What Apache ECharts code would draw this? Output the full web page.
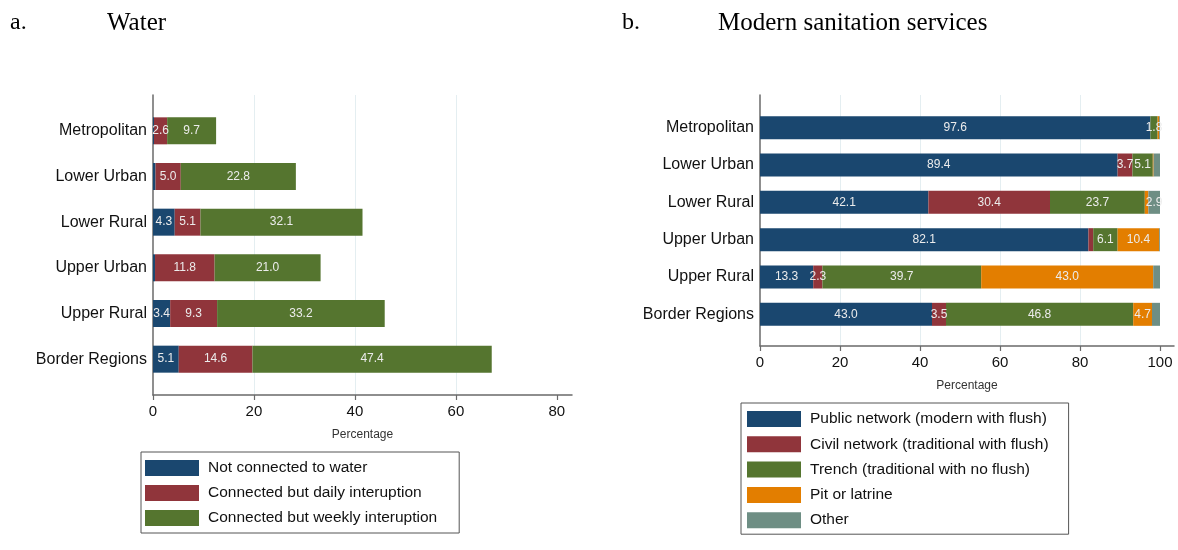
<!DOCTYPE html>
<html>
<head>
<meta charset="utf-8">
<script src="https://cdn.jsdelivr.net/npm/echarts@6/dist/echarts.min.js"></script>
<style>html,body{margin:0;padding:0;background:#fff;}#c{width:1178px;height:550px;}</style>
</head>
<body>
<div id="c"></div>
<script>
// ---- data ----
const regions = ['Metropolitan', 'Lower Urban', 'Lower Rural', 'Upper Urban', 'Upper Rural', 'Border Regions'];

const waterNames = ['Not connected to water', 'Connected but daily interuption', 'Connected but weekly interuption'];
const waterNotConnected = [0.2, 0.5, 4.3, 0.4, 3.4, 5.1];
const waterDaily = [2.6, 5.0, 5.1, 11.8, 9.3, 14.6];
const waterWeekly = [9.7, 22.8, 32.1, 21.0, 33.2, 47.4];

const sanNames = ['Public network (modern with flush)', 'Civil network (traditional with flush)', 'Trench (traditional with no flush)', 'Pit or latrine', 'Other'];
const sanPublic = [97.6, 89.4, 42.1, 82.1, 13.3, 43.0];
const sanCivil = [0.0, 3.7, 30.4, 1.2, 2.3, 3.5];
const sanTrench = [1.8, 5.1, 23.7, 6.1, 39.7, 46.8];
const sanPit = [0.4, 0.2, 0.9, 10.4, 43.0, 4.7];
const sanOther = [0.2, 1.6, 2.9, 0.2, 1.7, 2.0];

const waterTicks = [0, 20, 40, 60, 80];
const sanTicks = [0, 20, 40, 60, 80, 100];

// ---- styles ----
const SANS = "'Liberation Sans', Arial, sans-serif";
const SERIF = "'Liberation Serif', 'Times New Roman', serif";
const COLORS = ['#1a476f', '#90353b', '#55752f', '#e37e00', '#6e8e84'];
const AXIS = '#6a6a6a';
const GRID = '#e4eef1';

const chart = echarts.init(document.getElementById('c'), null, {renderer: 'canvas'});

function frameX(idx, max, ticks) {
  return {
    gridIndex: idx, type: 'value', min: 0, max: max, interval: 20,
    axisLine: {show: true, lineStyle: {color: AXIS, width: 1.5}},
    axisTick: {show: true, length: 5, lineStyle: {color: AXIS, width: 1.2}, customValues: ticks},
    axisLabel: {fontFamily: SANS, fontSize: 15, color: '#111', margin: 9, customValues: ticks},
    splitLine: {show: true, lineStyle: {color: GRID, width: 1}, showMinLine: false, showMaxLine: false},
    name: 'Percentage', nameLocation: 'middle', nameGap: 34,
    nameTextStyle: {fontFamily: SANS, fontSize: 12, color: '#333'}
  };
}
function frameY(idx) {
  return {
    gridIndex: idx, type: 'value', min: 0, max: 1,
    axisLine: {show: true, lineStyle: {color: AXIS, width: 1.5}},
    axisTick: {show: false}, axisLabel: {show: false}, splitLine: {show: false}
  };
}
function barX(idx, max) {
  return {gridIndex: idx, type: 'value', min: 0, max: max, show: false, splitLine: {show: false}};
}
function barY(idx) {
  return {
    gridIndex: idx, type: 'category', data: regions, inverse: true,
    axisLine: {show: false}, axisTick: {show: false}, splitLine: {show: false},
    axisLabel: {fontFamily: SANS, fontSize: 16, color: '#111', margin: 6}
  };
}
function labelFor(minVal) {
  return {
    show: true, position: 'inside', fontFamily: SANS, fontSize: 12, color: '#ececec',
    formatter: p => (p.value >= minVal ? Number(p.value).toFixed(1) : '')
  };
}
function mkSeries(name, data, color, axisIdx, stack, width, minVal) {
  return {
    type: 'bar', name: name, data: data, stack: stack,
    xAxisIndex: axisIdx, yAxisIndex: axisIdx, barWidth: width,
    itemStyle: {color: color}, label: labelFor(minVal),
    emphasis: {disabled: true}, animation: false
  };
}

const waterData = [waterNotConnected, waterDaily, waterWeekly];
const sanData = [sanPublic, sanCivil, sanTrench, sanPit, sanOther];
const sanMinLabel = [1.5, 1.5, 1.5, 1.5, 2.5];

const series = [];
waterData.forEach((d, i) => series.push(mkSeries(waterNames[i], d, COLORS[i], 1, 'water', 27, 1)));
sanData.forEach((d, i) => series.push(mkSeries(sanNames[i], d, COLORS[i], 3, 'san', 23, sanMinLabel[i])));

const legendText = {fontFamily: SANS, fontSize: 15.5, color: '#111', padding: [0, 0, 0, 4]};

chart.setOption({
  animation: false,
  backgroundColor: '#ffffff',
  title: [
    {text: 'a.', left: 10, top: 11, padding: 0, textStyle: {fontFamily: SERIF, fontSize: 24, fontWeight: 'normal', color: '#000'}},
    {text: 'Water', left: 107, top: 11, padding: 0, textStyle: {fontFamily: SERIF, fontSize: 25, fontWeight: 'normal', color: '#000'}},
    {text: 'b.', left: 622, top: 11, padding: 0, textStyle: {fontFamily: SERIF, fontSize: 24, fontWeight: 'normal', color: '#000'}},
    {text: 'Modern sanitation services', left: 718, top: 11, padding: 0, textStyle: {fontFamily: SERIF, fontSize: 25, fontWeight: 'normal', color: '#000'}}
  ],
  grid: [
    {left: 153, top: 95, width: 419, height: 300},
    {left: 153, top: 108, width: 419, height: 274},
    {left: 760, top: 95, width: 414, height: 251},
    {left: 760, top: 109, width: 414, height: 224}
  ],
  xAxis: [frameX(0, 83, waterTicks), barX(1, 83), frameX(2, 103.5, sanTicks), barX(3, 103.5)],
  yAxis: [frameY(0), barY(1), frameY(2), barY(3)],
  legend: [
    {
      data: waterNames, orient: 'vertical', left: 141, top: 452,
      itemWidth: 54, itemHeight: 16, itemGap: 9, icon: 'rect',
      padding: [8, 22, 7, 4], borderColor: '#555', borderWidth: 1,
      textStyle: legendText, selectedMode: false
    },
    {
      data: sanNames, orient: 'vertical', left: 741, top: 403,
      itemWidth: 54, itemHeight: 16, itemGap: 9.3, icon: 'rect',
      padding: [8, 20, 6, 6], borderColor: '#555', borderWidth: 1,
      textStyle: legendText, selectedMode: false
    }
  ],
  series: series
});
</script>
</body>
</html>
